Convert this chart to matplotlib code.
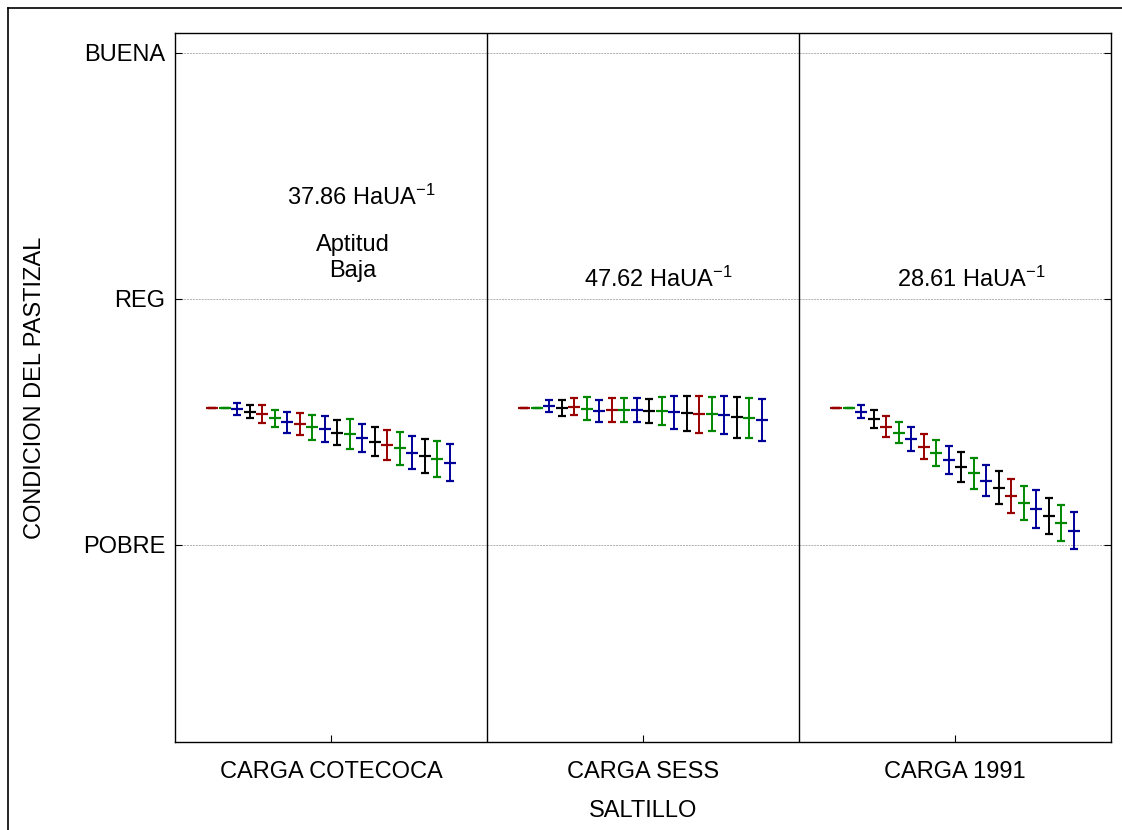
import matplotlib
matplotlib.use("Agg")
import matplotlib.pyplot as plt
from matplotlib.lines import Line2D

plt.rcParams['font.family'] = ['Liberation Sans', 'DejaVu Sans']
plt.rcParams['mathtext.fontset'] = 'custom'
plt.rcParams['mathtext.rm'] = 'Liberation Sans'
plt.rcParams['mathtext.default'] = 'regular'

# ---- data ----
groups = ["CARGA COTECOCA", "CARGA SESS", "CARGA 1991"]
ytick_labels = ["POBRE", "REG", "BUENA"]
ytick_vals = [1, 2, 3]
annotations = ["37.86 HaUA$^{-1}$", "47.62 HaUA$^{-1}$", "28.61 HaUA$^{-1}$"]
extra_note = "Aptitud\nBaja"

cotecoca_mean = [1.558, 1.558, 1.553, 1.542, 1.531, 1.515, 1.499, 1.492, 1.478, 1.472,
                 1.457, 1.450, 1.434, 1.420, 1.407, 1.393, 1.375, 1.363, 1.350, 1.335]
cotecoca_err = [0.0, 0.0, 0.026, 0.028, 0.037, 0.035, 0.043, 0.046, 0.051, 0.052,
                0.052, 0.061, 0.058, 0.059, 0.060, 0.066, 0.068, 0.069, 0.074, 0.076]
sess_mean = [1.558, 1.558, 1.565, 1.558, 1.562, 1.553, 1.545, 1.549, 1.549, 1.549,
             1.545, 1.545, 1.539, 1.535, 1.531, 1.531, 1.528, 1.519, 1.515, 1.508]
sess_err = [0.0, 0.0, 0.025, 0.033, 0.034, 0.047, 0.046, 0.049, 0.050, 0.050,
            0.049, 0.056, 0.066, 0.071, 0.075, 0.069, 0.077, 0.083, 0.081, 0.085]
c1991_mean = [1.558, 1.558, 1.542, 1.512, 1.481, 1.457, 1.430, 1.400, 1.373, 1.346,
              1.316, 1.291, 1.261, 1.233, 1.199, 1.172, 1.146, 1.118, 1.091, 1.058]
c1991_err = [0.0, 0.0, 0.028, 0.036, 0.042, 0.043, 0.048, 0.051, 0.054, 0.056,
             0.061, 0.062, 0.064, 0.066, 0.069, 0.069, 0.077, 0.074, 0.073, 0.074]

color_names = ["red", "green", "blue", "black", "red", "green", "blue", "red", "green", "blue",
               "black", "green", "blue", "black", "red", "green", "blue", "black", "green", "blue"]
palette = {"red": "#990000", "green": "#008800", "blue": "#000099", "black": "#000000"}

means = [cotecoca_mean, sess_mean, c1991_mean]
errs = [cotecoca_err, sess_err, c1991_err]

FS = 17

# ---- figure ----
fig = plt.figure(figsize=(11.22, 8.30), dpi=100)
ax = fig.add_axes([175/1122, 1 - 742/830, (1111-175)/1122, (742-33)/830])

n = len(cotecoca_mean)
for g in range(3):
    for k in range(n):
        x = g + 0.12 + 0.04 * k
        c = palette[color_names[k]]
        ax.errorbar([x], [means[g][k]], yerr=[errs[g][k]], fmt='_', color=c,
                    ecolor=c, elinewidth=1.4, capsize=3, capthick=1.4,
                    markersize=8, markeredgewidth=1.6)

for xv in [1, 2]:
    ax.axvline(xv, color='black', linewidth=1.0)

ax.set_xlim(0, 3)
ax.set_ylim(0.199, 3.081)
ax.set_yticks(ytick_vals)
ax.set_yticklabels(ytick_labels, fontsize=FS)
ax.set_xticks([0.5, 1.5, 2.5])
ax.set_xticklabels(groups, fontsize=FS)
ax.tick_params(axis='y', direction='in', length=5, right=True, pad=7)
ax.tick_params(axis='x', direction='in', length=5, pad=14)
ax.yaxis.grid(True, linestyle=(0, (2, 1)), color='#b0b0b0', linewidth=0.7)
ax.set_axisbelow(True)
for s in ax.spines.values():
    s.set_linewidth(1.0)

ax.set_xlabel("SALTILLO", fontsize=FS)
ax.xaxis.set_label_coords(0.5, (742 - 811) / 709, transform=ax.transAxes)
ax.xaxis.label.set_va('center')
ax.set_ylabel("CONDICION DEL PASTIZAL", fontsize=FS)
ax.yaxis.set_label_coords((35 - 175) / 936, 0.5, transform=ax.transAxes)
ax.yaxis.label.set_va('center')

# annotations
ax.text(0.359, 1 + (545 - 197) / 246, annotations[0], ha='left', va='center', fontsize=FS)
ax.text(0.571, 1 + (545 - 258) / 246, extra_note, ha='center', va='center', fontsize=FS,
        linespacing=1.2)
ax.text(1.311, 1 + (545 - 279) / 246, annotations[1], ha='left', va='center', fontsize=FS)
ax.text(2.314, 1 + (545 - 279) / 246, annotations[2], ha='left', va='center', fontsize=FS)

# figure frame (top and left)
fig.add_artist(Line2D([8/1122, 1.0], [1 - 8/830, 1 - 8/830], transform=fig.transFigure,
                      color='black', linewidth=1.2))
fig.add_artist(Line2D([8/1122, 8/1122], [1 - 8/830, 0.0], transform=fig.transFigure,
                      color='black', linewidth=1.2))

fig.savefig("out.png", dpi=100)
